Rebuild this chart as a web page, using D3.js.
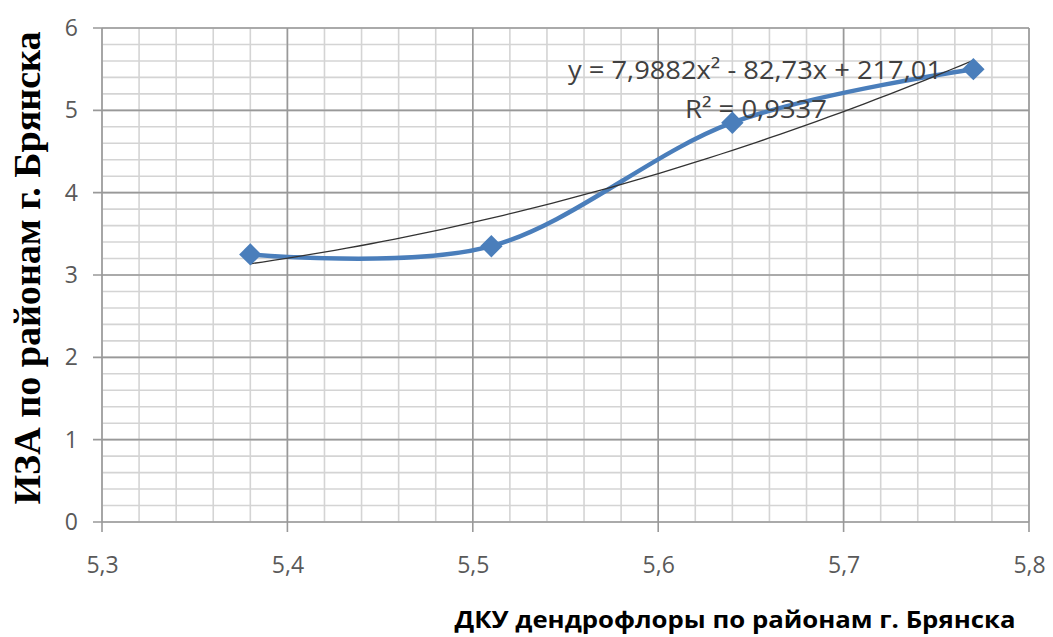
<!DOCTYPE html>
<html><head><meta charset="utf-8">
<script src="https://cdn.jsdelivr.net/npm/d3@7"></script>
<style>body{margin:0;background:#fff}svg{display:block}</style>
</head><body>
<script>
const xValues = [5.38, 5.51, 5.64, 5.77];
const yValues = [3.25, 3.35, 4.85, 5.5];
const xTicks = [5.3, 5.4, 5.5, 5.6, 5.7, 5.8];
const yTicks = [0, 1, 2, 3, 4, 5, 6];
const trendCoef = [7.9882, -82.73, 217.01];
const eqLabel = "y = 7,9882x² - 82,73x + 217,01";
const r2Label = "R² = 0,9337";
const xTitle = "ДКУ дендрофлоры по районам г. Брянска";
const yTitle = "ИЗА  по районам  г. Брянска";

const W = 1053, H = 637;
const svg = d3.select("body").append("svg").attr("width", W).attr("height", H);
const x = d3.scaleLinear().domain([5.3, 5.8]).range([102, 1029]);
const y = d3.scaleLinear().domain([0, 6]).range([522, 28]);

const g = svg.append("g");
// minor grid
const xMinor = d3.range(5.3, 5.8001, 0.02).map(v => +v.toFixed(2));
const yMinor = d3.range(0, 6.001, 0.2).map(v => +v.toFixed(1));
g.selectAll(".vm").data(xMinor).join("line")
  .attr("x1", d => x(d)).attr("x2", d => x(d)).attr("y1", y(6)).attr("y2", y(0))
  .attr("stroke", "#d4d4d4").attr("stroke-width", 1.6);
g.selectAll(".hm").data(yMinor).join("line")
  .attr("x1", x(5.3)).attr("x2", x(5.8)).attr("y1", d => y(d)).attr("y2", d => y(d))
  .attr("stroke", "#d4d4d4").attr("stroke-width", 1.6);
// major grid
g.selectAll(".vM").data(xTicks).join("line")
  .attr("x1", d => x(d)).attr("x2", d => x(d)).attr("y1", y(6)).attr("y2", y(0) + 10)
  .attr("stroke", "#999").attr("stroke-width", 1.6);
g.selectAll(".hM").data(yTicks).join("line")
  .attr("x1", x(5.3) - 9).attr("x2", x(5.8)).attr("y1", d => y(d)).attr("y2", d => y(d))
  .attr("stroke", "#999").attr("stroke-width", 1.6);

// axes labels via d3 axes
const xAxis = svg.append("g").attr("transform", `translate(0,${y(0)})`)
  .call(d3.axisBottom(x).tickValues(xTicks).tickSize(0).tickPadding(51)
    .tickFormat(d => d3.format(".1f")(d).replace(".", ",")));
xAxis.select(".domain").remove();
xAxis.selectAll("text").attr("font-family", "Open Sans, sans-serif").attr("font-size", 23)
  .attr("fill", "#595959").attr("dy", 0);
const yAxis = svg.append("g").attr("transform", `translate(${x(5.3)},0)`)
  .call(d3.axisLeft(y).tickValues(yTicks).tickSize(0).tickPadding(24).tickFormat(d3.format("d")));
yAxis.select(".domain").remove();
yAxis.selectAll("text").attr("font-family", "Open Sans, sans-serif").attr("font-size", 23)
  .attr("fill", "#595959");

// series
const pts = xValues.map((v, i) => [v, yValues[i]]);
svg.append("path").datum(pts)
  .attr("d", d3.line().x(d => x(d[0])).y(d => y(d[1])).curve(d3.curveCardinal.tension(0)))
  .attr("fill", "none").attr("stroke", "#4a7ebb").attr("stroke-width", 4.5);
// trendline
const tx = d3.range(0, 61).map(i => xValues[0] + (xValues[xValues.length-1] - xValues[0]) * i / 60);
svg.append("path").datum(tx)
  .attr("d", d3.line().x(d => x(d)).y(d => y(trendCoef[0]*d*d + trendCoef[1]*d + trendCoef[2])))
  .attr("fill", "none").attr("stroke", "#333").attr("stroke-width", 1.3);
// markers
svg.selectAll(".mk").data(pts).join("path")
  .attr("transform", d => `translate(${x(d[0])},${y(d[1])})`)
  .attr("d", d3.symbol().type(d3.symbolDiamond2).size(320))
  .attr("fill", "#4a7ebb");

// equation labels
svg.append("text").attr("x", 755).attr("y", 79).attr("text-anchor", "middle")
  .attr("font-family", "Open Sans, sans-serif").attr("font-size", 25).attr("fill", "#404040")
  .attr("textLength", 374).attr("lengthAdjust", "spacingAndGlyphs").text(eqLabel);
svg.append("text").attr("x", 756).attr("y", 118).attr("text-anchor", "middle")
  .attr("font-family", "Open Sans, sans-serif").attr("font-size", 25).attr("fill", "#404040")
  .attr("textLength", 142).attr("lengthAdjust", "spacingAndGlyphs").text(r2Label);

// titles
svg.append("text").attr("x", 735).attr("y", 628).attr("text-anchor", "middle")
  .attr("font-family", "Open Sans, sans-serif").attr("font-weight", "bold").attr("font-size", 23)
  .attr("fill", "#000").attr("textLength", 561).attr("lengthAdjust", "spacingAndGlyphs").text(xTitle);
svg.append("text").attr("transform", "translate(40,268) rotate(-90)").attr("text-anchor", "middle")
  .attr("font-family", "Liberation Serif, serif").attr("font-weight", "bold").attr("font-size", 37)
  .attr("fill", "#000").attr("textLength", 473).attr("lengthAdjust", "spacingAndGlyphs").text(yTitle);
</script>
</body></html>
